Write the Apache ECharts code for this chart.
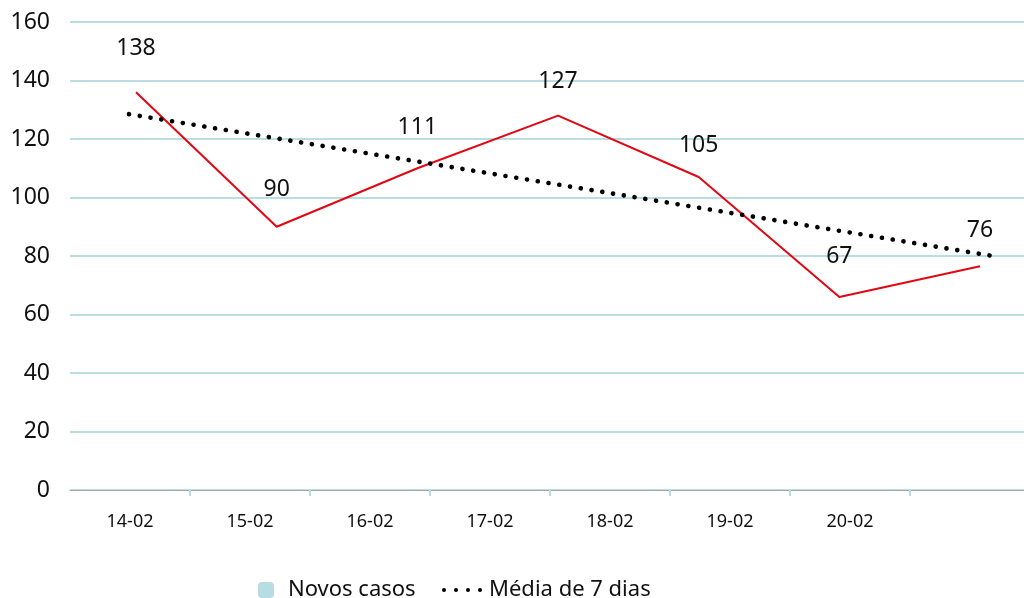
<!DOCTYPE html>
<html>
<head>
<meta charset="utf-8">
<script src="https://cdn.jsdelivr.net/npm/echarts@6/dist/echarts.min.js"></script>
<style>
html,body{margin:0;padding:0;background:#fff;}
#c{width:1024px;height:598px;}
</style>
</head>
<body>
<div id="c"></div>
<script>
// ---- data ----
const xLabels = ['14-02','15-02','16-02','17-02','18-02','19-02','20-02',''];
const novosCasos = [138, 90, 111, 127, 105, 67, 76];          // data labels
const casosLinha = [136, 90, 110, 128, 107, 66, 76.5];        // red line as drawn
const mediaX = [-0.05, 6.13];                                  // straight 7-day average line ends
const mediaY = [128.5, 79.7];
const yTicks = {min: 0, max: 160, interval: 20};

const font = 'Noto Sans';
const chart = echarts.init(document.getElementById('c'));

const barData = novosCasos.map((v, i) => [i, v]);
const lineData = casosLinha.map((v, i) => [i, v]);
const mediaData = mediaX.map((x, i) => [x, mediaY[i]]);

const dotsIcon = 'path://M0,2a2,2 0 1,0 4,0a2,2 0 1,0 -4,0Z' +
  'M12,2a2,2 0 1,0 4,0a2,2 0 1,0 -4,0Z' +
  'M24,2a2,2 0 1,0 4,0a2,2 0 1,0 -4,0Z' +
  'M36,2a2,2 0 1,0 4,0a2,2 0 1,0 -4,0Z';

chart.setOption({
  animation: false,
  textStyle: {fontFamily: font},
  grid: {left: 70, width: 960, top: 22, bottom: 108, containLabel: false, outerBoundsMode: 'none'},
  legend: [
    {
      data: [{name: 'Novos casos', itemStyle: {color: '#b7dde3', opacity: 1}}],
      left: 258, top: 579, itemWidth: 16, itemHeight: 16, padding: 0,
      textStyle: {fontFamily: font, fontSize: 22, color: '#111', padding: [0, 0, 0, 9]}
    },
    {
      data: [{name: 'Média de 7 dias', icon: dotsIcon, itemStyle: {color: '#000'}}],
      left: 442, top: 579, itemWidth: 40, itemHeight: 4, padding: 0,
      textStyle: {fontFamily: font, fontSize: 22, color: '#111', padding: [0, 0, 0, 2]}
    }
  ],
  xAxis: [
    {
      type: 'category', data: xLabels, boundaryGap: true,
      axisLine: {lineStyle: {color: '#a6a6a6', width: 1}},
      axisTick: {show: true, length: 6, lineStyle: {color: '#b7dde3', width: 2},
                 interval: (i) => i > 0},
      axisLabel: {fontFamily: font, fontSize: 18, color: '#111', margin: 23, interval: 0},
      splitLine: {show: false}
    },
    {
      type: 'value', show: false, min: -0.4692, max: 6.3554
    }
  ],
  yAxis: {
    type: 'value', min: yTicks.min, max: yTicks.max, interval: yTicks.interval,
    axisLine: {show: false}, axisTick: {show: false},
    axisLabel: {fontFamily: font, fontSize: 23, color: '#111', margin: 20},
    splitLine: {lineStyle: {color: '#b9dde3', width: 2}}
  },
  series: [
    {
      name: 'Novos casos', type: 'bar', xAxisIndex: 1, data: barData, barWidth: 20,
      itemStyle: {color: 'rgba(0,0,0,0)'},
      label: {show: true, position: 'top', distance: 26, fontFamily: font, fontSize: 23, color: '#111'},
      z: 5
    },
    {
      name: 'Casos', type: 'line', xAxisIndex: 1, data: lineData, symbol: 'none',
      lineStyle: {color: '#e30613', width: 2}, z: 3
    },
    {
      name: 'Média de 7 dias', type: 'line', xAxisIndex: 1, data: mediaData, symbol: 'none',
      itemStyle: {color: '#000'},
      lineStyle: {color: '#000', width: 4.6, type: [0.1, 10.8], cap: 'round'}, z: 4
    }
  ]
});
</script>
</body>
</html>
